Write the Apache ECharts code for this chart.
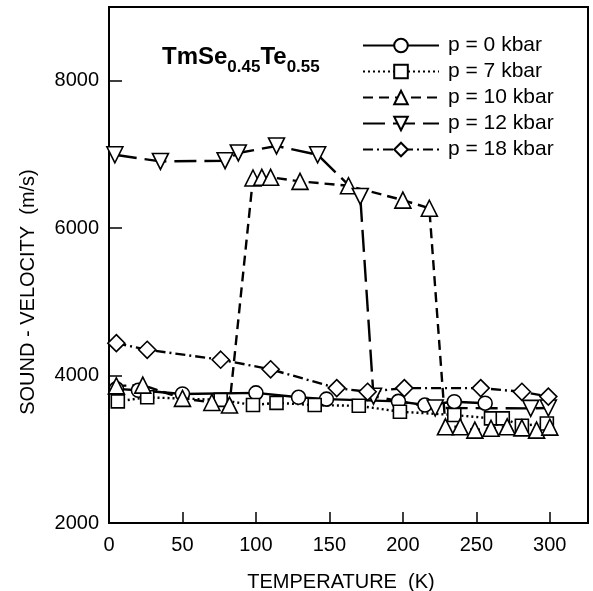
<!DOCTYPE html>
<html>
<head>
<meta charset="utf-8">
<script src="https://cdn.jsdelivr.net/npm/echarts@6/dist/echarts.min.js"></script>
<style>
html,body{margin:0;padding:0;background:#fff;}
#c{width:593px;height:591px;}
</style>
</head>
<body>
<div id="c"></div>
<script>
// Data (temperature K, sound velocity m/s)
const seriesNames = ['p = 0 kbar', 'p = 7 kbar', 'p = 10 kbar', 'p = 12 kbar', 'p = 18 kbar'];
const p0T = [5, 20, 50, 100, 129, 148, 197, 215, 235, 256];
const p0V = [3820, 3800, 3750, 3765, 3705, 3680, 3650, 3600, 3645, 3625];
const p7T = [6, 26, 76, 98, 114, 140, 170, 198, 235, 260, 268, 281, 298];
const p7V = [3650, 3705, 3670, 3600, 3630, 3600, 3590, 3510, 3465, 3420, 3420, 3320, 3350];
const p10T = [5, 23, 50, 70, 82, 98, 104, 110, 130, 163, 200, 218, 229, 239, 249, 260, 271, 281, 291, 300];
const p10V = [3860, 3870, 3690, 3635, 3600, 6680, 6690, 6690, 6635, 6575, 6380, 6270, 3305, 3305, 3260, 3285, 3305, 3290, 3260, 3300];
const p12T = [4, 35, 79, 88, 114, 142, 171, 180, 222, 287, 299];
const p12V = [6995, 6905, 6915, 7020, 7115, 6995, 6430, 3720, 3560, 3555, 3560];
const p18T = [5, 26, 76, 110, 155, 176, 201, 253, 281, 299];
const p18V = [4440, 4350, 4215, 4085, 3830, 3780, 3830, 3830, 3780, 3715];
const xTicks = [0, 50, 100, 150, 200, 250, 300];
const yTicks = [2000, 4000, 6000, 8000];

function pairs(t, v) { return t.map((x, i) => [x, v[i]]); }

const chart = echarts.init(document.getElementById('c'), null, {renderer: 'canvas'});
const FONT = 'Liberation Sans, Arial, sans-serif';
const markerStyle = {color: '#fff', borderColor: '#000', borderWidth: 1.6};

function mk(name, t, v, symbol, size, rotate, dash) {
  return {
    name: name, type: 'line', data: pairs(t, v),
    symbol: symbol, symbolSize: size, symbolRotate: rotate,
    showAllSymbol: true,
    lineStyle: {color: '#000', width: 2.4, type: dash},
    itemStyle: markerStyle,
    emphasis: {disabled: true},
    animation: false
  };
}

const option = {
  backgroundColor: '#fff',
  animation: false,
  grid: {left: 109, top: 7, right: 5, bottom: 68, show: true, borderColor: '#000', borderWidth: 2, backgroundColor: 'transparent'},
  title: {
    left: 162, top: 42, padding: 0,
    text: '{b|TmSe}{s|0.45}{b|Te}{s|0.55}',
    textStyle: {
      rich: {
        b: {fontFamily: FONT, fontSize: 24, fontWeight: 'bold', color: '#000', lineHeight: 30},
        s: {fontFamily: FONT, fontSize: 17, color: '#000', lineHeight: 30, padding: [21, 0, 0, 0]}
      }
    }
  },
  graphic: [
    {type: 'text', x: 341, y: 582, style: {text: 'TEMPERATURE  (K)', fontFamily: FONT, fontSize: 20, fill: '#000', align: 'center', verticalAlign: 'middle'}},
    {type: 'text', rotation: Math.PI / 2, x: 28, y: 292, style: {text: 'SOUND - VELOCITY  (m/s)', fontFamily: FONT, fontSize: 20, fill: '#000', align: 'center', verticalAlign: 'middle'}}
  ],
  legend: {
    orient: 'vertical', left: 357, top: 30,
    itemWidth: 76, itemHeight: 17, itemGap: 5,
    data: seriesNames,
    textStyle: {fontFamily: FONT, fontSize: 21, color: '#000', lineHeight: 20, padding: [0, 0, 0, 4]},
    selectedMode: false
  },
  xAxis: {
    type: 'value', min: 0, max: 326, interval: 50,
    axisLine: {show: true, onZero: false, lineStyle: {color: '#000', width: 2}},
    axisTick: {show: true, inside: true, length: 11, lineStyle: {color: '#000', width: 1.5}},
    axisLabel: {fontFamily: FONT, fontSize: 20, color: '#000', margin: 12, showMaxLabel: false,
      formatter: v => xTicks.includes(v) ? String(v) : ''},
    splitLine: {show: false}
  },
  yAxis: {
    type: 'value', min: 2000, max: 9000, interval: 2000,
    axisLine: {show: true, onZero: false, lineStyle: {color: '#000', width: 2}},
    axisTick: {show: true, inside: true, length: 13, lineStyle: {color: '#000', width: 1.5}},
    axisLabel: {fontFamily: FONT, fontSize: 20, color: '#000', margin: 10, showMaxLabel: false,
      formatter: v => yTicks.includes(v) ? String(v) : ''},
    splitLine: {show: false}
  },
  series: [
    mk(seriesNames[0], p0T, p0V, 'circle', 14, 0, 'solid'),
    mk(seriesNames[1], p7T, p7V, 'rect', 13, 0, [2, 3]),
    mk(seriesNames[2], p10T, p10V, 'triangle', 16, 0, [10, 6]),
    mk(seriesNames[3], p12T, p12V, 'triangle', 16, 180, [22, 8]),
    mk(seriesNames[4], p18T, p18V, 'diamond', 17, 0, [10, 4, 2, 4])
  ]
};
chart.setOption(option);
</script>
</body>
</html>
